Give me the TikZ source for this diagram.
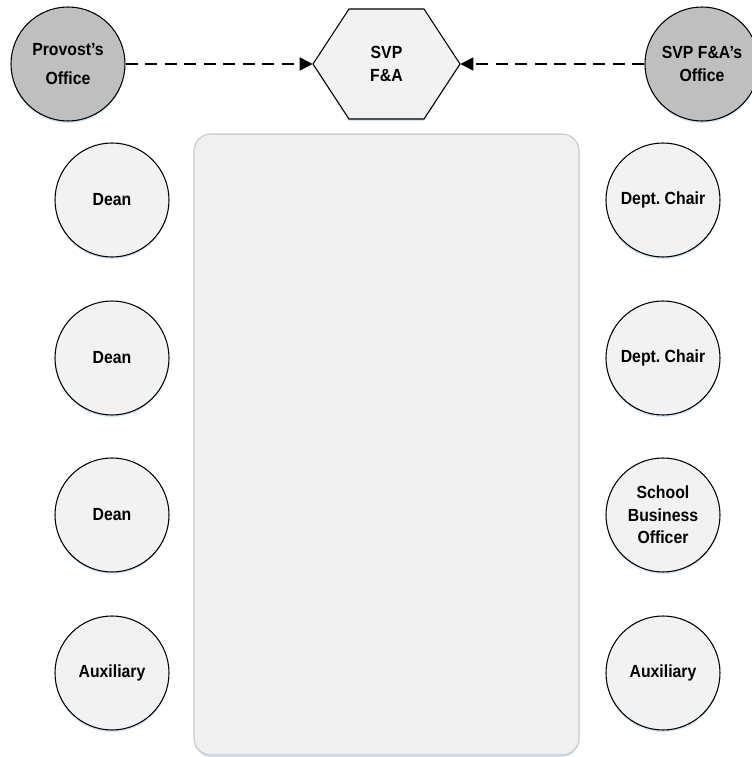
\documentclass[tikz,border=0pt]{standalone}
\usepackage{fontspec}
\setmainfont{Liberation Sans}[FakeStretch=0.9]
\usetikzlibrary{arrows.meta,shadows}
\definecolor{topgray}{HTML}{BFBFBF}
\definecolor{lightfill}{HTML}{F2F2F2}
\definecolor{panelfill}{HTML}{F0F0F0}
\definecolor{panelline}{HTML}{C8C8C8}
\definecolor{glow}{HTML}{D3E4F5}

\begin{document}
\begin{tikzpicture}[x=1cm,y=1cm,
  office/.style={circle,draw,line width=0.6pt,fill=topgray,minimum size=2.28cm,inner sep=0pt,align=center,
    font=\fontsize{10}{12.8}\selectfont\bfseries,
    drop shadow={shadow xshift=0pt,shadow yshift=-0.04cm,fill=glow,opacity=1}},
  role/.style={office,fill=lightfill},
  link/.style={line width=1.1pt,dash pattern=on 0.24cm off 0.15cm,-{Triangle[length=0.26cm,width=0.26cm]}}]
\useasboundingbox (0,0) rectangle (15.04,15.14);
\draw[panelline,fill=panelfill,rounded corners=0.34cm,line width=0.6pt,
  drop shadow={shadow xshift=0pt,shadow yshift=-0.04cm,fill=glow,opacity=1}] (3.88,0.04) rectangle (11.58,12.46);
\draw[fill=lightfill,line width=0.6pt,
  drop shadow={shadow xshift=0pt,shadow yshift=-0.04cm,fill=glow,opacity=1}]
  (6.26,13.86) -- (6.98,14.96) -- (8.48,14.96) -- (9.20,13.86) -- (8.48,12.76) -- (6.98,12.76) -- cycle;
\node[align=center,font=\fontsize{10}{12.8}\selectfont\bfseries,minimum width=2.94cm,minimum height=2.2cm,inner sep=0pt] (svp) at (7.73,13.86) {SVP\\F\&A};
\node[office] (provost) at (1.36,13.86) {Provost’s\\[0.12cm]Office};
\node[office] (svpoffice) at (14.04,13.86) {SVP F\&A’s\\Office};
\draw[link] (provost) -- (svp.west);
\draw[link] (svpoffice) -- (svp.east);
\node[role] (dean1) at (2.24,11.14) {Dean};
\node[role] (dean2) at (2.24,7.98) {Dean};
\node[role] (dean3) at (2.24,4.84) {Dean};
\node[role] (auxleft) at (2.24,1.68) {Auxiliary};
\node[role] (chair1) at (13.26,11.14) {Dept.\ Chair};
\node[role] (chair2) at (13.26,7.98) {Dept.\ Chair};
\node[role] (sbo) at (13.26,4.84) {School\\Business\\Officer};
\node[role] (auxright) at (13.26,1.68) {Auxiliary};
\end{tikzpicture}
\end{document}
